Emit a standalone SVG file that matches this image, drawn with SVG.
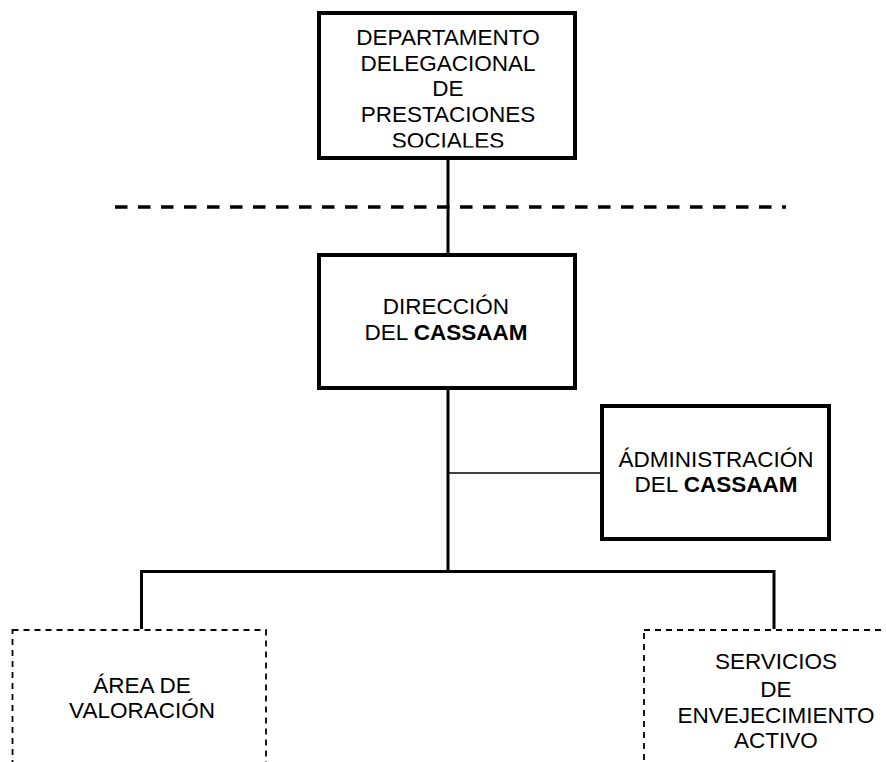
<svg xmlns="http://www.w3.org/2000/svg" width="886" height="762" viewBox="0 0 886 762">
<style>
  .box{fill:#fff;stroke:#000;stroke-width:4}
  .dbox{fill:#fff;stroke:#000;stroke-width:1.8;stroke-dasharray:6 5}
  .ln{fill:none;stroke:#000;stroke-width:3}
  .thin{fill:none;stroke:#000;stroke-width:1.3}
  .sep{fill:none;stroke:#000;stroke-width:3.5;stroke-dasharray:12.5 10.5}
  text{font-family:"Liberation Sans",Arial,sans-serif;font-size:22.5px;fill:#000;text-anchor:middle}
  .b{font-weight:bold}
</style>
<defs>
  <clipPath id="clipTop"><rect x="321" y="15" width="252" height="132.5"/></clipPath>
</defs>
<rect width="886" height="762" fill="#fff"/>
<g id="connectors">
  <line class="sep" x1="115" y1="207" x2="786" y2="207"/>
  <line class="ln" x1="448" y1="158" x2="448" y2="255"/>
  <line class="ln" x1="448" y1="388" x2="448" y2="571.5"/>
  <line class="thin" x1="448" y1="473" x2="602" y2="473"/>
  <polyline class="ln" points="141.5,629 141.5,571.5 774,571.5 774,629"/>
</g>
<g id="departamento">
  <rect class="box" x="319" y="13" width="256" height="145"/>
  <g clip-path="url(#clipTop)">
    <text x="448" y="45">DEPARTAMENTO</text>
    <text x="448" y="70.5">DELEGACIONAL</text>
    <text x="448" y="96">DE</text>
    <text x="448" y="121.5">PRESTACIONES</text>
    <text x="448" y="147.5">SOCIALES</text>
  </g>
</g>
<g id="direccion">
  <rect class="box" x="319" y="255" width="256" height="133"/>
  <text x="446" y="314">DIRECCIÓN</text>
  <text x="446" y="340">DEL <tspan class="b">CASSAAM</tspan></text>
</g>
<g id="administracion">
  <rect class="box" x="602" y="406" width="227" height="133"/>
  <text x="716" y="467">ÁDMINISTRACIÓN</text>
  <text x="716" y="492">DEL <tspan class="b">CASSAAM</tspan></text>
</g>
<g id="area-valoracion">
  <rect class="dbox" x="12.5" y="630" width="253.5" height="150"/>
  <text x="142" y="693">ÁREA DE</text>
  <text x="142" y="718">VALORACIÓN</text>
</g>
<g id="servicios">
  <rect class="dbox" x="644" y="630" width="300" height="150"/>
  <text x="776" y="669">SERVICIOS</text>
  <text x="776" y="697">DE</text>
  <text x="776" y="723">ENVEJECIMIENTO</text>
  <text x="776" y="748">ACTIVO</text>
</g>
</svg>
